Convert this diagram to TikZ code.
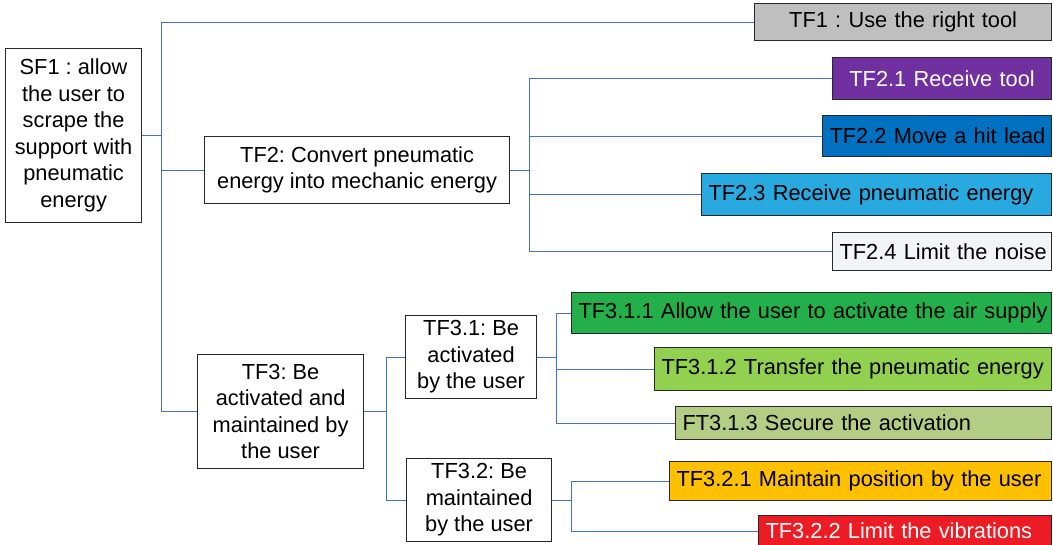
\documentclass[tikz,border=0pt]{standalone}
\usepackage{fontspec}
\setmainfont{Liberation Sans}
\frenchspacing
\hbadness=10000 \hfuzz=50pt
\definecolor{conn}{RGB}{68,114,196}
\definecolor{boxc}{RGB}{40,40,40}
\definecolor{cTFone}{RGB}{191,191,191}
\definecolor{cTFtwoA}{RGB}{112,48,160}
\definecolor{cTFtwoB}{RGB}{0,112,192}
\definecolor{cTFtwoC}{RGB}{40,170,225}
\definecolor{cTFtwoD}{RGB}{242,245,248}
\definecolor{cTFthrA}{RGB}{35,176,75}
\definecolor{cTFthrB}{RGB}{146,208,80}
\definecolor{cTFthrC}{RGB}{180,205,132}
\definecolor{cTFthrD}{RGB}{255,192,0}
\definecolor{cTFthrE}{RGB}{237,28,36}
\begin{document}
\begin{tikzpicture}[x=1pt,y=-1pt,
  base/.style={draw=boxc, line width=1.2pt, anchor=north west, inner sep=0pt,
    font=\fontsize{21.8}{26.5}\selectfont\frenchspacing},
  midbox/.style={base, align=center},
  leafbox/.style={base, inner xsep=7pt, align=left},
  ctrleaf/.style={base, inner xsep=7pt, align=center},
  link/.style={draw=conn, line width=0.9pt}]
\useasboundingbox (0,0) rectangle (1053,544);

% level 0 / 1 boxes
\node[midbox, minimum width=136pt, minimum height=174pt] (sf1) at (5,48)
  {SF1 : allow\\the user to\\scrape the\\support with\\pneumatic\\energy};
\node[midbox, minimum width=305pt, minimum height=67pt] (tf2) at (204,136)
  {TF2: Convert pneumatic\\energy into mechanic energy};
\node[midbox, minimum width=166pt, minimum height=114pt] (tf3) at (197,354)
  {TF3: Be\\activated and\\maintained by\\the user};
\node[midbox, minimum width=131pt, minimum height=83pt] (tf31) at (405,315)
  {TF3.1: Be\\activated\\by the user};
\node[midbox, minimum width=145pt, minimum height=83pt] (tf32) at (406,458)
  {TF3.2: Be\\maintained\\by the user};

% leaves
\node[ctrleaf, fill=cTFone, text width=283pt, minimum height=37pt] (tf1) at (754,3)
  {\mbox{TF1 : Use the right tool}};
\node[ctrleaf, fill=cTFtwoA, text=white, text width=205pt, minimum height=42pt] (tf21) at (832,57)
  {\mbox{TF2.1 Receive tool}};
\node[leafbox, fill=cTFtwoB, text width=215pt, minimum height=41pt] (tf22) at (822,115)
  {\mbox{TF2.2 Move a hit lead}};
\node[leafbox, fill=cTFtwoC, text width=336pt, minimum height=42pt] (tf23) at (701,173)
  {\mbox{TF2.3 Receive pneumatic energy}};
\node[leafbox, fill=cTFtwoD, text width=205pt, minimum height=38pt] (tf24) at (832,232)
  {\mbox{TF2.4 Limit the noise}};
\node[leafbox, fill=cTFthrA, text width=466pt, minimum height=41pt] (tf311) at (571,292)
  {\mbox{TF3.1.1 Allow the user to activate the air supply}};
\node[leafbox, fill=cTFthrB, text width=383pt, minimum height=43pt] (tf312) at (654,347)
  {\mbox{TF3.1.2 Transfer the pneumatic energy}};
\node[leafbox, fill=cTFthrC, text width=362pt, minimum height=33pt] (ft313) at (675,406)
  {\mbox{FT3.1.3 Secure the activation}};
\node[leafbox, fill=cTFthrD, text width=368pt, minimum height=39pt] (tf321) at (669,461)
  {\mbox{TF3.2.1 Maintain position by the user}};
\node[leafbox, fill=cTFthrE, text=white, text width=279pt, minimum height=31pt] (tf322) at (758,515)
  {\mbox{TF3.2.2 Limit the vibrations}};

% bus junctions
\coordinate (b1) at ([xshift=19pt]sf1.east);
\coordinate (b2) at ([xshift=19pt]tf2.east);
\coordinate (b3) at ([xshift=22pt]tf3.east);
\coordinate (b4) at ([xshift=19pt]tf31.east);
\coordinate (b5) at ([xshift=19pt]tf32.east);

% connectors
\draw[link] (sf1.east) -- (b1);
\draw[link] (b1) |- (tf1.west);
\draw[link] (b1) |- (tf2.west);
\draw[link] (b1) |- (tf3.west);

\draw[link] (tf2.east) -- (b2);
\draw[link] (b2) |- (tf21.west);
\draw[link] (b2) |- (tf22.west);
\draw[link] (b2) |- (tf23.west);
\draw[link] (b2) |- (tf24.west);

\draw[link] (tf3.east) -- (b3);
\draw[link] (b3) |- (tf31.west);
\draw[link] (b3) |- (tf32.west);

\draw[link] (tf31.east) -- (b4);
\draw[link] (b4) |- (tf311.west);
\draw[link] (b4) |- (tf312.west);
\draw[link] (b4) |- (ft313.west);

\draw[link] (tf32.east) -- (b5);
\draw[link] (b5) |- (tf321.west);
\draw[link] (b5) |- (tf322.west);
\end{tikzpicture}
\end{document}
